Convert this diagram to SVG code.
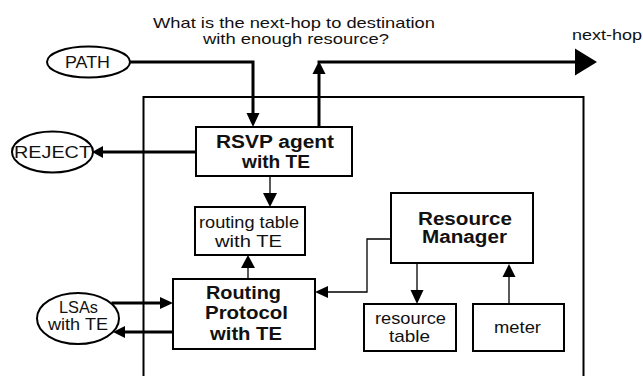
<svg xmlns="http://www.w3.org/2000/svg" width="643" height="376" viewBox="0 0 643 376">
  <style>
    .box { fill: #fff; stroke: #000; stroke-width: 2; }
    .oval { fill: #fff; stroke: #000; stroke-width: 2; }
    .frame { fill: none; stroke: #000; stroke-width: 2; }
    .thick { fill: none; stroke: #000; stroke-width: 3; }
    .thin { fill: none; stroke: #000; stroke-width: 1.3; }
    .head { fill: #000; stroke: none; }
    text { font-family: "Liberation Sans", Arial, Helvetica, sans-serif; fill: #111; text-anchor: middle; }
    .t { font-size: 17px; }
    .b { font-size: 18px; font-weight: bold; }
    .q { font-size: 15px; }
  </style>
  <rect width="643" height="376" fill="#fff"/>

  <!-- router boundary -->
  <path class="frame" d="M143.5,380 V97 H583.5 V380"/>

  <g id="connectors">
    <!-- PATH into RSVP agent -->
    <path class="thick" d="M130,62 H253 V114"/>
    <polygon class="head" points="246.5,113 259.5,113 253,127"/>
    <!-- RSVP agent to next-hop -->
    <path class="thick" d="M319,127 V73"/>
    <polygon class="head" points="312.5,74 325.5,74 319,61"/>
    <path class="thick" d="M317.5,62 H577"/>
    <polygon class="head" points="575,48.5 597,62 575,75.5"/>
    <!-- RSVP agent to REJECT -->
    <path class="thick" d="M196,152 H102"/>
    <polygon class="head" points="103,146 103,158 92,152"/>
    <!-- RSVP agent to routing table -->
    <path class="thin" d="M270,176 V194"/>
    <polygon class="head" points="263,193 277,193 270,207"/>
    <!-- routing protocol to routing table -->
    <path class="thin" d="M248,279 V267"/>
    <polygon class="head" points="241,268 255,268 248,255"/>
    <!-- resource manager to routing protocol -->
    <path class="thin" d="M391,239 H367 V292 H327"/>
    <polygon class="head" points="328,286 328,298 315,292"/>
    <!-- resource manager to resource table -->
    <path class="thin" d="M417,263 V291"/>
    <polygon class="head" points="410.5,290 423.5,290 417,304"/>
    <!-- meter to resource manager -->
    <path class="thin" d="M509,304 V276"/>
    <polygon class="head" points="502.5,277 515.5,277 509,264"/>
    <!-- LSAs exchange -->
    <path class="thick" d="M111.5,303 H161"/>
    <polygon class="head" points="160,297 160,309 173,303"/>
    <path class="thick" d="M173,332 H124"/>
    <polygon class="head" points="125,326 125,338 113,332"/>
  </g>

  <g id="question">
    <text class="q" x="294" y="28" textLength="282" lengthAdjust="spacingAndGlyphs">What is the next-hop to destination</text>
    <text class="q" x="296" y="44" textLength="186" lengthAdjust="spacingAndGlyphs">with enough resource?</text>
  </g>
  <g id="next-hop">
    <text class="q" x="607" y="40" textLength="70" lengthAdjust="spacingAndGlyphs">next-hop</text>
  </g>

  <g id="path">
    <ellipse class="oval" cx="88.5" cy="62" rx="41.5" ry="15.5"/>
    <text class="t" x="87.5" y="68" textLength="45" lengthAdjust="spacingAndGlyphs">PATH</text>
  </g>

  <g id="reject">
    <ellipse class="oval" cx="52.5" cy="152" rx="40.5" ry="20.5"/>
    <text class="t" x="52.5" y="158" textLength="77" lengthAdjust="spacingAndGlyphs">REJECT</text>
  </g>

  <g id="lsas">
    <ellipse class="oval" cx="78" cy="318.5" rx="41" ry="25.5"/>
    <text class="t" x="78.5" y="313" textLength="39" lengthAdjust="spacingAndGlyphs">LSAs</text>
    <text class="t" x="78" y="330" textLength="60" lengthAdjust="spacingAndGlyphs">with TE</text>
  </g>

  <g id="rsvp-agent">
    <rect class="box" x="196" y="127" width="156" height="49"/>
    <text class="b" x="275" y="148" textLength="118" lengthAdjust="spacingAndGlyphs">RSVP agent</text>
    <text class="b" x="276" y="168" textLength="68" lengthAdjust="spacingAndGlyphs">with TE</text>
  </g>

  <g id="routing-table">
    <rect class="box" x="195" y="207" width="110" height="48"/>
    <text class="t" x="249" y="228" textLength="100" lengthAdjust="spacingAndGlyphs">routing table</text>
    <text class="t" x="248.5" y="247" textLength="67" lengthAdjust="spacingAndGlyphs">with TE</text>
  </g>

  <g id="routing-protocol">
    <rect class="box" x="173" y="279" width="142" height="70"/>
    <text class="b" x="243.5" y="299" textLength="75" lengthAdjust="spacingAndGlyphs">Routing</text>
    <text class="b" x="246.5" y="319" textLength="83" lengthAdjust="spacingAndGlyphs">Protocol</text>
    <text class="b" x="246" y="340" textLength="72" lengthAdjust="spacingAndGlyphs">with TE</text>
  </g>

  <g id="resource-manager">
    <rect class="box" x="391" y="193" width="142" height="70"/>
    <text class="b" x="465" y="225" textLength="94" lengthAdjust="spacingAndGlyphs">Resource</text>
    <text class="b" x="464.5" y="243" textLength="85" lengthAdjust="spacingAndGlyphs">Manager</text>
  </g>

  <g id="resource-table">
    <rect class="box" x="364" y="304" width="92" height="47"/>
    <text class="t" x="410.5" y="324" textLength="71" lengthAdjust="spacingAndGlyphs">resource</text>
    <text class="t" x="409.5" y="342" textLength="41" lengthAdjust="spacingAndGlyphs">table</text>
  </g>

  <g id="meter">
    <rect class="box" x="473" y="304" width="91" height="47"/>
    <text class="t" x="517.5" y="333" textLength="47" lengthAdjust="spacingAndGlyphs">meter</text>
  </g>
</svg>
